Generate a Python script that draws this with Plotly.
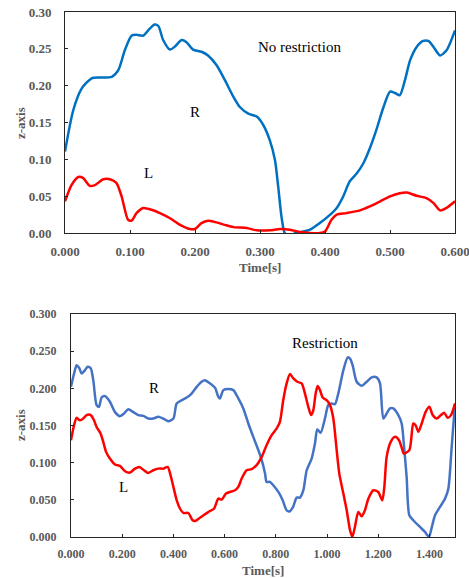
import plotly.graph_objects as go

# ---- Top chart: No restriction ----
top_R_t = [0, 0.0128, 0.0256, 0.041, 0.054, 0.072, 0.082, 0.092, 0.1026, 0.110, 0.1205, 0.13, 0.138, 0.1436,
           0.151, 0.1615, 0.169, 0.1795, 0.187, 0.197, 0.21, 0.22, 0.233, 0.246, 0.259, 0.269, 0.282, 0.295,
           0.305, 0.315, 0.323, 0.328, 0.333, 0.338, 0.346, 0.354, 0.3615, 0.377, 0.392, 0.408, 0.418, 0.428,
           0.438, 0.449, 0.459, 0.469, 0.479, 0.49, 0.5, 0.5077, 0.515, 0.523, 0.531, 0.541, 0.551, 0.559,
           0.567, 0.577, 0.587, 0.6]
top_R_z = [0.1105, 0.167, 0.196, 0.21, 0.211, 0.212, 0.221, 0.248, 0.268, 0.269, 0.268, 0.277, 0.283, 0.281,
           0.262, 0.249, 0.253, 0.262, 0.259, 0.249, 0.246, 0.241, 0.228, 0.2075, 0.185, 0.171, 0.162, 0.158,
           0.1466, 0.126, 0.099, 0.063, 0.0226, 0.0, -0.006, 0.0, 0.001, 0.0045, 0.0135, 0.025, 0.034, 0.0496,
           0.07, 0.081, 0.0947, 0.115, 0.14, 0.171, 0.192, 0.19, 0.187, 0.2075, 0.2346, 0.2526, 0.2607, 0.2607,
           0.2526, 0.241, 0.248, 0.275]

top_L_t = [0, 0.01, 0.0205, 0.028, 0.038, 0.046, 0.059, 0.069, 0.079, 0.087, 0.097, 0.1026, 0.11, 0.1205,
           0.133, 0.146, 0.1615, 0.177, 0.192, 0.2, 0.21, 0.22, 0.233, 0.246, 0.259, 0.2795, 0.295, 0.315,
           0.331, 0.346, 0.3615, 0.377, 0.392, 0.4, 0.41, 0.418, 0.433, 0.454, 0.469, 0.485, 0.5, 0.515,
           0.526, 0.541, 0.556, 0.567, 0.577, 0.587, 0.6]
top_L_z = [0.043, 0.065, 0.076, 0.0745, 0.064, 0.065, 0.073, 0.073, 0.068, 0.05, 0.018, 0.017, 0.027, 0.034,
           0.0316, 0.027, 0.02, 0.011, 0.0054, 0.0054, 0.0135, 0.0167, 0.0144, 0.011, 0.008, 0.0068, 0.0036,
           0.0036, 0.0054, 0.0045, 0.0014, 0.0, 0.0, 0.002, 0.018, 0.025, 0.027, 0.0307, 0.036, 0.043, 0.0496,
           0.054, 0.055, 0.0505, 0.0474, 0.0406, 0.0307, 0.034, 0.043]

# ---- Bottom chart: Restriction ----
bot_R_t = [0, 0.012, 0.022, 0.0326, 0.0417, 0.0547, 0.065, 0.077, 0.087, 0.1, 0.109, 0.12, 0.133, 0.152,
           0.172, 0.191, 0.207, 0.224, 0.2435, 0.263, 0.2826, 0.302, 0.3216, 0.341, 0.36, 0.38, 0.4, 0.4128,
           0.432, 0.452, 0.471, 0.491, 0.51, 0.523, 0.543, 0.5625, 0.5755, 0.582, 0.595, 0.6146, 0.634,
           0.6536, 0.673, 0.6927, 0.712, 0.7318, 0.745, 0.758, 0.764, 0.777, 0.79, 0.81, 0.827, 0.8424,
           0.855, 0.8685, 0.8815, 0.8945, 0.9076, 0.9206, 0.94, 0.953, 0.962, 0.975, 0.992, 1.005, 1.018,
           1.031, 1.044, 1.064, 1.081, 1.09, 1.1, 1.116, 1.1354, 1.155, 1.1745, 1.194, 1.207, 1.22, 1.233,
           1.246, 1.259, 1.2786, 1.2917, 1.3, 1.311, 1.3216, 1.337, 1.363, 1.383, 1.398, 1.409, 1.422,
           1.4414, 1.461, 1.474, 1.487, 1.5]
bot_R_z = [0.202, 0.22, 0.231, 0.227, 0.22, 0.2245, 0.229, 0.227, 0.211, 0.1774, 0.175, 0.188, 0.1895, 0.182,
           0.168, 0.1626, 0.166, 0.172, 0.168, 0.164, 0.163, 0.1594, 0.1594, 0.1617, 0.1594, 0.1558, 0.1594,
           0.1796, 0.184, 0.1877, 0.193, 0.202, 0.2088, 0.211, 0.2066, 0.2007, 0.1886, 0.1864, 0.1976, 0.199,
           0.1976, 0.1864, 0.173, 0.1527, 0.1347, 0.1168, 0.1033, 0.0853, 0.0741, 0.0741, 0.0696, 0.0606,
           0.0494, 0.0359, 0.0346, 0.0413, 0.053, 0.053, 0.0629, 0.0898, 0.1055, 0.1257, 0.1446, 0.1401,
           0.1594, 0.1774, 0.1796, 0.1787, 0.193, 0.2246, 0.2416, 0.24, 0.2313, 0.2088, 0.2034, 0.2088,
           0.2147, 0.2147, 0.2066, 0.1594, 0.166, 0.173, 0.173, 0.164, 0.1527, 0.1257, 0.0808, 0.0292, 0.0225,
           0.0135, 0.0067, 0.0, 0.0126, 0.0292, 0.0404, 0.0516, 0.065, 0.121, 0.1796]

bot_L_t = [0, 0.012, 0.022, 0.035, 0.048, 0.061, 0.077, 0.0898, 0.1, 0.1159, 0.126, 0.137, 0.152, 0.172,
           0.191, 0.211, 0.2305, 0.25, 0.267, 0.285, 0.302, 0.3216, 0.341, 0.36, 0.3776, 0.389, 0.4, 0.413,
           0.426, 0.439, 0.458, 0.475, 0.484, 0.504, 0.5234, 0.543, 0.5586, 0.5755, 0.5885, 0.6055, 0.621,
           0.6406, 0.6536, 0.6667, 0.686, 0.7057, 0.725, 0.745, 0.764, 0.784, 0.8034, 0.816, 0.829, 0.8424,
           0.8555, 0.8685, 0.884, 0.901, 0.914, 0.927, 0.9375, 0.9466, 0.9557, 0.9635, 0.9727, 0.983, 0.9987,
           1.0117, 1.0247, 1.0378, 1.048, 1.064, 1.077, 1.09, 1.099, 1.109, 1.1224, 1.1354, 1.148, 1.1615,
           1.181, 1.2, 1.216, 1.224, 1.233, 1.249, 1.266, 1.2813, 1.294, 1.3, 1.3216, 1.337, 1.346, 1.357,
           1.37, 1.3854, 1.4, 1.4128, 1.4284, 1.445, 1.458, 1.4714, 1.4844, 1.5]
bot_L_z = [0.13, 0.1504, 0.1603, 0.157, 0.1594, 0.164, 0.164, 0.157, 0.148, 0.139, 0.128, 0.1145, 0.1055,
           0.0975, 0.0957, 0.0885, 0.0867, 0.092, 0.0943, 0.0898, 0.0862, 0.0898, 0.092, 0.092, 0.0943, 0.083,
           0.0674, 0.0494, 0.038, 0.0323, 0.0323, 0.0225, 0.0215, 0.026, 0.0305, 0.035, 0.038, 0.0516, 0.0503,
           0.0584, 0.0606, 0.0629, 0.0674, 0.0786, 0.0898, 0.0912, 0.0966, 0.1078, 0.1235, 0.137, 0.146, 0.155,
           0.184, 0.2066, 0.2192, 0.2133, 0.2088, 0.2066, 0.193, 0.1751, 0.164, 0.1707, 0.193, 0.203, 0.1976,
           0.1877, 0.184, 0.1774, 0.1594, 0.1168, 0.0853, 0.0584, 0.0359, 0.009, 0.0, 0.0135, 0.0337, 0.0278,
           0.0359, 0.0516, 0.0629, 0.0606, 0.0494, 0.0674, 0.1078, 0.128, 0.1347, 0.1302, 0.1177, 0.1123,
           0.1168, 0.1527, 0.1504, 0.1415, 0.1527, 0.1684, 0.1751, 0.164, 0.1594, 0.164, 0.167, 0.1603, 0.164,
           0.1796]

W, H = 469, 578
FONT = "Liberation Serif"
GREY = "#595959"

fig = go.Figure()
line_kw = dict(mode="lines", line_shape="spline", showlegend=False, hoverinfo="skip")
fig.add_trace(go.Scatter(x=top_R_t, y=top_R_z, xaxis="x", yaxis="y",
                         line=dict(color="#0070C0", width=2.5, smoothing=0.7), **line_kw))
fig.add_trace(go.Scatter(x=top_L_t, y=top_L_z, xaxis="x", yaxis="y",
                         line=dict(color="#FF0000", width=2.5, smoothing=0.7), **line_kw))
fig.add_trace(go.Scatter(x=bot_R_t, y=bot_R_z, xaxis="x2", yaxis="y2",
                         line=dict(color="#4472C4", width=2.5, smoothing=0.7), **line_kw))
fig.add_trace(go.Scatter(x=bot_L_t, y=bot_L_z, xaxis="x2", yaxis="y2",
                         line=dict(color="#FF0000", width=2.5, smoothing=0.7), **line_kw))

def ax(domain, rng, dtick, fmt, anchor, size, standoff):
    return dict(domain=domain, range=rng, dtick=dtick, tick0=0, tickformat=fmt, anchor=anchor,
                automargin=False, ticklabeloverflow="allow",
                showgrid=False, zeroline=False, showline=True, linecolor="#262626", linewidth=1,
                mirror=True, ticks="inside", ticklen=3, tickcolor="#262626",
                tickfont=dict(family=FONT, size=size, color=GREY, weight="bold"),
                ticklabelstandoff=standoff, fixedrange=True)

top_xd = [65 / W, 455 / W]
top_yd = [1 - 233 / H, 1 - 12 / H]
bot_xd = [71 / W, 455 / W]
bot_yd = [1 - 537 / H, 1 - 314 / H]

fig.update_layout(
    width=W, height=H, margin=dict(l=0, r=0, t=0, b=0, autoexpand=False),
    paper_bgcolor="white", plot_bgcolor="white",
    xaxis=ax(top_xd, [0, 0.6], 0.1, ".3f", "y", 13, 6),
    yaxis=ax(top_yd, [0, 0.3], 0.05, ".2f", "x", 13, 10),
    xaxis2=ax(bot_xd, [0, 1.5], 0.2, ".3f", "y2", 12, 6),
    yaxis2=ax(bot_yd, [0, 0.3], 0.05, ".3f", "x2", 12, 11),
)

ann = []
def label(text, x, y, xref, yref):
    ann.append(dict(text=text, x=x, y=y, xref=xref, yref=yref, showarrow=False,
                    font=dict(family=FONT, size=15, color="black")))
label("No restriction", 0.36, 0.253, "x", "y")
label("R", 0.2, 0.164, "x", "y")
label("L", 0.128, 0.082, "x", "y")
label("Restriction", 0.992, 0.261, "x2", "y2")
label("R", 0.324, 0.201, "x2", "y2")
label("L", 0.204, 0.067, "x2", "y2")

def title(text, x, y, angle=0):
    ann.append(dict(text=text, x=x, y=y, xref="paper", yref="paper", showarrow=False,
                    textangle=angle, xanchor="center", yanchor="middle",
                    font=dict(family=FONT, size=13, color=GREY, weight="bold")))
title("z-axis", 20 / W, 1 - 123 / H, -90)
title("Time[s]", 260 / W, 1 - 267 / H)
title("z-axis", 20 / W, 1 - 425 / H, -90)
title("Time[s]", 263 / W, 1 - 570 / H)
fig.update_layout(annotations=ann)

fig.write_html("out.html", config={"displayModeBar": False},
               post_script="document.body.style.margin='0';document.body.style.overflow='hidden';")
